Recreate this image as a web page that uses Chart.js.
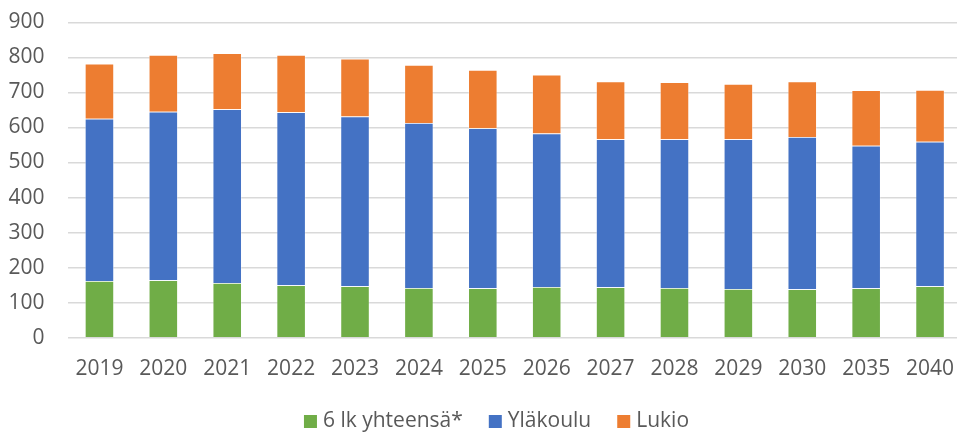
<!DOCTYPE html>
<html>
<head>
<meta charset="utf-8">
<script src="https://cdn.jsdelivr.net/npm/chart.js@4.4.1/dist/chart.umd.min.js"></script>
<style>
  html, body { margin: 0; padding: 0; background: #ffffff; }
  #wrap { width: 957px; height: 432px; }
</style>
</head>
<body>
<div id="wrap"><canvas id="myChart" width="957" height="432"></canvas></div>
<script>
// Oppilasmäärät vuosittain
var vuodet = ['2019', '2020', '2021', '2022', '2023', '2024', '2025', '2026', '2027', '2028', '2029', '2030', '2035', '2040'];
var kuudesLuokka = [162, 164, 156, 150, 147, 142, 141, 145, 144, 142, 139, 138, 141, 147];
var ylakoulu = [463, 481, 496, 493, 484, 471, 457, 438, 422, 424, 427, 435, 407, 412];
var lukio = [157, 162, 160, 164, 165, 165, 166, 167, 165, 163, 158, 158, 158, 148];
var yTicks = [0, 100, 200, 300, 400, 500, 600, 700, 800, 900];

var fontti = "'Open Sans', 'Noto Sans', sans-serif";
var harmaa = '#595959';

function sarja(nimi, data, vari) {
    return {
        label: nimi,
        data: data,
        backgroundColor: vari,
        borderColor: 'rgba(255, 255, 255, 0.5)',
        borderWidth: 0.75,
        categoryPercentage: 1,
        barPercentage: 0.455
    };
}

// Piirtoalue jatkuu hieman kanvaasin oikean reunan yli
var leveaAlue = {
    id: 'leveaAlue',
    afterLayout: function (chart) {
        var a = chart.chartArea;
        var x = chart.scales.x;
        a.right = 962;
        a.width = a.right - a.left;
        x.right = 962;
        x.width = x.right - x.left;
        x.configure();
    }
};

// Oma selite kaavion alle: laatikko + teksti, keskitettynä
var selite = {
    id: 'selite',
    afterDraw: function (chart) {
        var c = chart.ctx;
        var laatikko = 13, vali = 6, vali2 = 26;
        var keskiY = 421.5;
        c.save();
        c.font = '21px ' + fontti;
        c.textBaseline = 'middle';
        c.textAlign = 'left';
        var osat = chart.data.datasets.map(function (ds) {
            return { teksti: ds.label, vari: ds.backgroundColor, leveys: c.measureText(ds.label).width };
        });
        var yht = 0;
        osat.forEach(function (o, i) {
            yht += laatikko + vali + o.leveys + (i < osat.length - 1 ? vali2 : 0);
        });
        var x = 496.5 - yht / 2;
        osat.forEach(function (o) {
            c.fillStyle = o.vari;
            c.fillRect(x, keskiY - laatikko / 2, laatikko, laatikko);
            x += laatikko + vali;
            c.fillStyle = harmaa;
            c.fillText(o.teksti, x, keskiY);
            x += o.leveys + vali2;
        });
        c.restore();
    }
};

var ctx = document.getElementById('myChart').getContext('2d');
var myChart = new Chart(ctx, {
    type: 'bar',
    data: {
        labels: vuodet,
        datasets: [
            sarja('6 lk yhteensä*', kuudesLuokka, '#70AD47'),
            sarja('Yläkoulu', ylakoulu, '#4472C4'),
            sarja('Lukio', lukio, '#ED7D31')
        ]
    },
    plugins: [leveaAlue, selite],
    options: {
        responsive: false,
        animation: false,
        layout: {
            padding: { top: 22.3, right: 0, bottom: 51, left: 0 }
        },
        plugins: {
            tooltip: { enabled: false },
            legend: { display: false }
        },
        scales: {
            x: {
                stacked: true,
                afterFit: function (scale) {
                    scale.paddingLeft = 0;
                    scale.paddingRight = 0;
                    scale.height = 43.3;
                },
                grid: { display: false, drawTicks: false },
                border: { display: false },
                ticks: {
                    color: harmaa,
                    font: { family: fontti, size: 21 },
                    padding: 19,
                    maxRotation: 0,
                    autoSkip: false
                }
            },
            y: {
                stacked: true,
                min: 0,
                max: 900,
                afterBuildTicks: function (scale) {
                    scale.ticks = yTicks.map(function (v) { return { value: v }; });
                },
                afterFit: function (scale) {
                    scale.width = 67.5;
                    scale.paddingTop = 0;
                    scale.paddingBottom = 0;
                },
                grid: {
                    color: '#d9d9d9',
                    lineWidth: 1.5,
                    drawTicks: false
                },
                border: { display: false },
                ticks: {
                    color: harmaa,
                    font: { family: fontti, size: 21 },
                    padding: 23
                }
            }
        }
    }
});
</script>
</body>
</html>
